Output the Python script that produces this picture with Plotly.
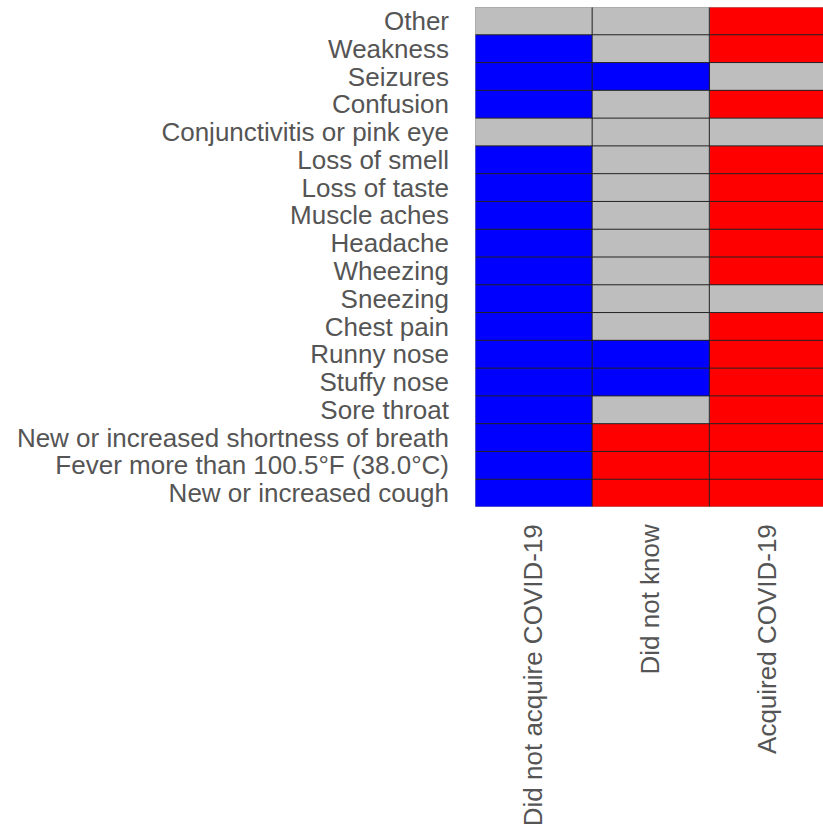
import plotly.graph_objects as go

# Symptom rows, listed bottom to top
symptoms = [
    "New or increased cough",
    "Fever more than 100.5°F (38.0°C)",
    "New or increased shortness of breath",
    "Sore throat",
    "Stuffy nose",
    "Runny nose",
    "Chest pain",
    "Sneezing",
    "Wheezing",
    "Headache",
    "Muscle aches",
    "Loss of taste",
    "Loss of smell",
    "Conjunctivitis or pink eye",
    "Confusion",
    "Seizures",
    "Weakness",
    "Other",
]

groups = ["Did not acquire COVID-19", "Did not know", "Acquired COVID-19"]

# Cell category per symptom: 0 = blue, 1 = grey, 2 = red
did_not_acquire = [0, 0, 0, 0, 0, 0, 0, 0, 0, 0, 0, 0, 0, 1, 0, 0, 0, 1]
did_not_know    = [2, 2, 2, 1, 0, 0, 1, 1, 1, 1, 1, 1, 1, 1, 1, 0, 1, 1]
acquired        = [2, 2, 2, 2, 2, 2, 2, 1, 2, 2, 2, 2, 2, 1, 2, 1, 2, 2]

columns = [did_not_acquire, did_not_know, acquired]
z = [[col[i] for col in columns] for i in range(len(symptoms))]

colorscale = [[0.0, "#0000FF"], [0.5, "#BEBEBE"], [1.0, "#FF0000"]]

n_rows = len(symptoms)
n_cols = len(groups)

fig = go.Figure()
fig.add_trace(
    go.Heatmap(
        z=z,
        x=list(range(n_cols)),
        y=list(range(n_rows)),
        zmin=0,
        zmax=2,
        colorscale=colorscale,
        showscale=False,
        hoverinfo="skip",
    )
)

# Inner tile outlines along the cell boundaries
gx, gy = [], []
for r in range(1, n_rows):
    gx += [-0.5, n_cols - 0.5, None]
    gy += [r - 0.5, r - 0.5, None]
for c in range(1, n_cols):
    gx += [c - 0.5, c - 0.5, None]
    gy += [-0.5, n_rows - 0.5, None]
fig.add_trace(
    go.Scatter(
        x=gx,
        y=gy,
        mode="lines",
        line=dict(color="#222222", width=1),
        hoverinfo="skip",
        showlegend=False,
    )
)

# Lighter outer frame of the tile grid
fig.add_trace(
    go.Scatter(
        x=[-0.5, n_cols - 0.5, n_cols - 0.5, -0.5, -0.5],
        y=[-0.5, -0.5, n_rows - 0.5, n_rows - 0.5, -0.5],
        mode="lines",
        line=dict(color="#999999", width=1),
        hoverinfo="skip",
        showlegend=False,
    )
)

font_family = "Liberation Sans, Arial, sans-serif"
tick_font = dict(family=font_family, size=26, color="#555555")

fig.update_layout(
    width=823,
    height=832,
    margin=dict(l=475, r=0, t=7, b=325),
    paper_bgcolor="white",
    plot_bgcolor="white",
    showlegend=False,
)

fig.update_xaxes(
    range=[-0.5, n_cols - 0.53],
    tickmode="array",
    tickvals=list(range(n_cols)),
    ticktext=groups,
    tickangle=-90,
    showgrid=False,
    zeroline=False,
    showline=False,
    ticks="",
    ticklabelstandoff=11,
    tickfont=tick_font,
)
fig.update_yaxes(
    range=[-0.5, n_rows - 0.5],
    tickmode="array",
    tickvals=list(range(n_rows)),
    ticktext=symptoms,
    showgrid=False,
    zeroline=False,
    showline=False,
    ticks="",
    ticklabelstandoff=25,
    tickfont=tick_font,
)

fig.write_html("out.html")
